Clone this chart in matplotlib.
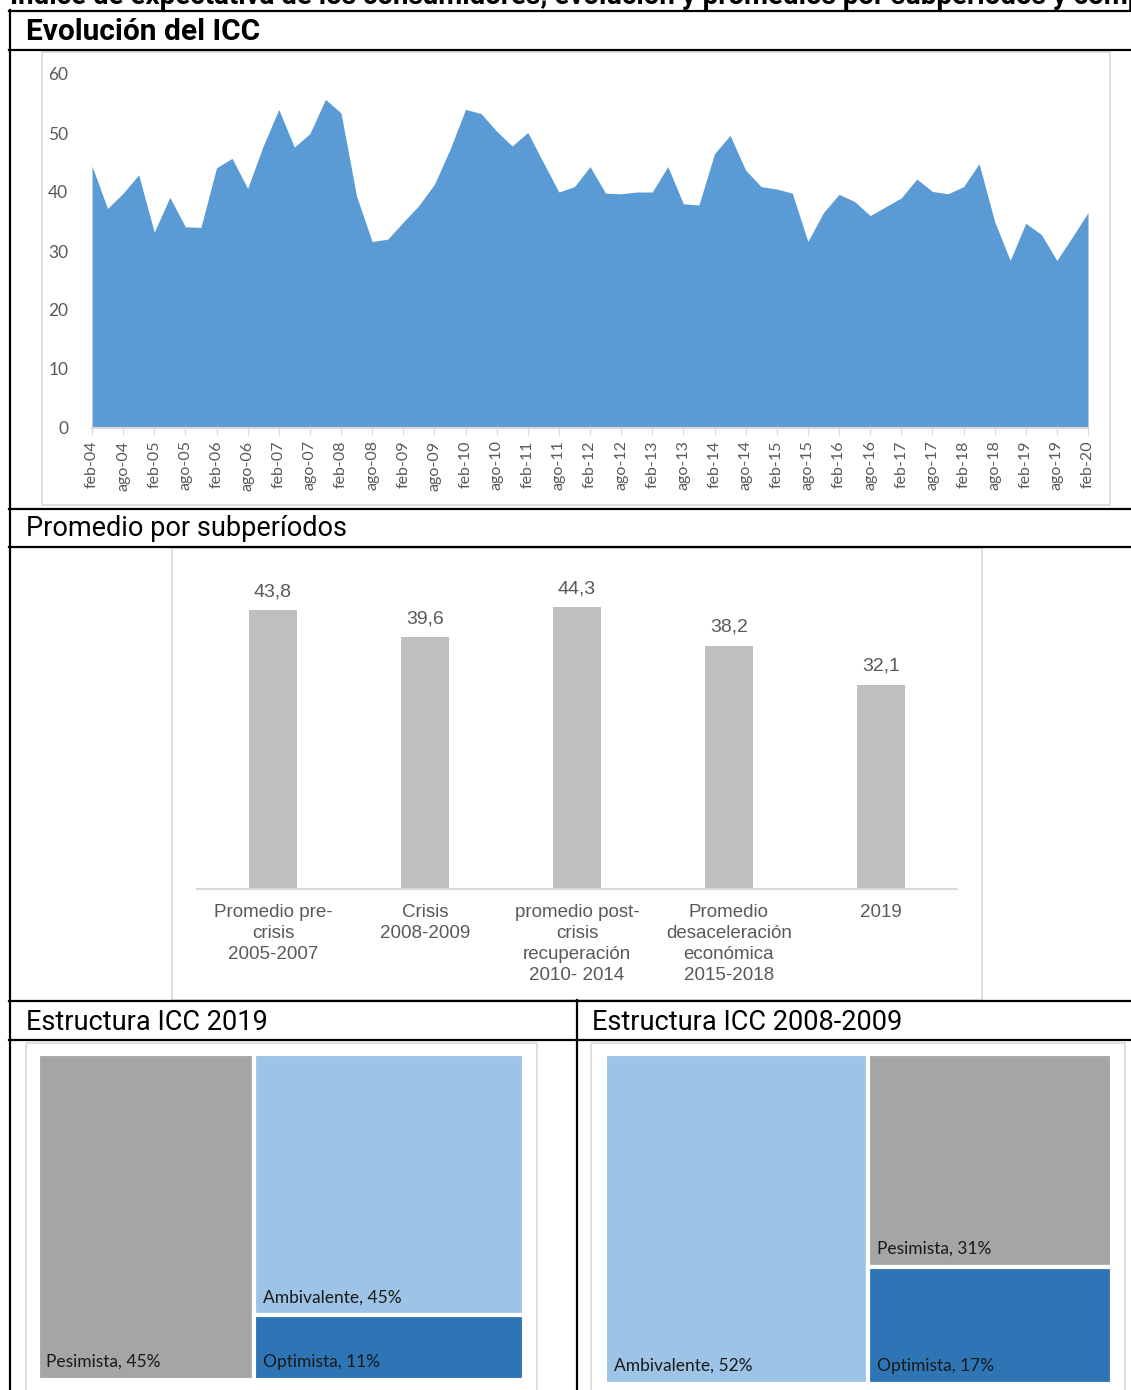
import numpy as np
import matplotlib
matplotlib.use('Agg')
import matplotlib.pyplot as plt
from matplotlib.patches import Rectangle

# ICC data, quarterly feb-04 .. feb-20
icc = [44.4, 37.2, 39.8, 42.9, 33.2, 39.1, 34.1, 34.0, 44.1, 45.7, 40.6, 47.8,
       54.0, 47.6, 49.9, 55.7, 53.4, 39.3, 31.6, 32.0, 34.9, 37.7, 41.3, 47.2,
       54.0, 53.3, 50.3, 47.8, 50.1, 45.0, 40.0, 40.9, 44.3, 39.8, 39.7, 40.0,
       40.0, 44.3, 38.0, 37.8, 46.5, 49.6, 43.7, 40.9, 40.5, 39.8, 31.6, 36.5,
       39.6, 38.4, 36.0, 37.5, 39.0, 42.2, 40.1, 39.7, 40.9, 44.8, 35.0, 28.4,
       34.7, 32.8, 28.4, 32.4, 36.5]
years = ['%02d' % y for y in range(4, 21)]
tick_labels = []
for y in years:
    tick_labels += ['feb-' + y, 'ago-' + y]
tick_labels = tick_labels[:-1]

periods = ['Promedio pre-\ncrisis\n2005-2007', 'Crisis\n2008-2009',
           'promedio post-\ncrisis\nrecuperación\n2010- 2014',
           'Promedio\ndesaceleración\neconómica\n2015-2018', '2019']
period_avg = [43.8, 39.6, 44.3, 38.2, 32.1]

tm19_labels = ['Pesimista', 'Ambivalente', 'Optimista']
tm19_values = [45, 45, 11]
tm0809_labels = ['Ambivalente', 'Pesimista', 'Optimista']
tm0809_values = [52, 31, 17]

colors = {'Pesimista': '#A5A5A5', 'Ambivalente': '#9DC3E6', 'Optimista': '#2E75B6'}

W, H = 1131, 1390
fig = plt.figure(figsize=(W / 100, H / 100), dpi=100)
head_font = ['Roboto', 'DejaVu Sans']
tick_font = ['Lato', 'DejaVu Sans']
bar_font = ['Liberation Sans', 'DejaVu Sans']
grey_txt = '#595959'


def px_axes(x0, y0, x1, y1):
    return fig.add_axes([x0 / W, 1 - y1 / H, (x1 - x0) / W, (y1 - y0) / H])


# overlay for table lines, frames and headers
ov = fig.add_axes([0, 0, 1, 1], zorder=0)
ov.set_xlim(0, W)
ov.set_ylim(H, 0)
ov.axis('off')

for (x0, y0, x1, y1) in [(42, 52, 1110, 505), (172, 548, 982, 1000),
                         (26, 1043, 537, 1395), (591, 1043, 1125, 1395)]:
    ov.add_patch(Rectangle((x0, y0), x1 - x0, y1 - y0, fill=False,
                           ec='#D9D9D9', lw=1.2))

for y in [11, 49.5, 508.5, 546.5, 1000.5, 1040]:
    ov.plot([9, W], [y, y], color='black', lw=1.6)
ov.plot([10, 10], [10, H], color='black', lw=1.6)
ov.plot([577, 577], [1000, H], color='black', lw=1.6)

ov.text(10, 4.5, 'Índice de expectativa de los consumidores; evolución y promedios por subperíodos y composición',
        family=head_font, fontsize=20, va='baseline', ha='left', weight='bold', clip_on=False)
ov.text(26, 32, 'Evolución del ICC', family=head_font, fontsize=21.5,
        weight='bold', va='center')
ov.text(26, 529, 'Promedio por subperíodos', family=head_font, fontsize=19.5, va='center')
ov.text(26, 1022, 'Estructura ICC 2019', family=head_font, fontsize=19.5, va='center')
ov.text(592, 1022, 'Estructura ICC 2008-2009', family=head_font, fontsize=19.5, va='center')

# area chart
ax = px_axes(92, 74, 1088, 428)
x = np.arange(len(icc))
ax.fill_between(x, icc, color='#5B9BD5', lw=0)
ax.set_xlim(0, len(icc) - 1)
ax.set_ylim(0, 60)
ax.set_yticks(range(0, 61, 10))
ax.set_xticks(np.arange(0, len(icc), 2))
ax.set_xticklabels(tick_labels, rotation=90, family=tick_font, fontsize=11.5, color=grey_txt)
for lab in ax.get_yticklabels():
    lab.set_family(tick_font)
ax.tick_params(axis='y', length=0, pad=17, labelsize=12.5, labelcolor=grey_txt)
ax.tick_params(axis='x', length=5, color='#D9D9D9', pad=4)
for s in ['top', 'right', 'left']:
    ax.spines[s].set_visible(False)
ax.spines['bottom'].set_color('#D9D9D9')
ax.spines['bottom'].set_linewidth(1.5)
ax.patch.set_alpha(0)

# bar chart
bx = px_axes(197, 570.5, 957, 889)
pos = np.arange(len(periods))
bx.bar(pos, period_avg, width=0.31, color='#BFBFBF')
bx.set_xlim(-0.5, len(periods) - 0.5)
bx.set_ylim(0, 50)
bx.set_yticks([])
bx.set_xticks(pos)
bx.set_xticklabels(periods, family=bar_font, fontsize=13.5,
                   color=grey_txt, linespacing=1.3, va='top')
bx.tick_params(axis='x', length=0, pad=11)
for s in ['top', 'right', 'left']:
    bx.spines[s].set_visible(False)
bx.spines['bottom'].set_color('#D9D9D9')
bx.spines['bottom'].set_linewidth(1.5)
for p, v in zip(pos, period_avg):
    bx.annotate(('%.1f' % v).replace('.', ','), (p, v), xytext=(0, 7),
                textcoords='offset points', ha='center', va='bottom',
                family=bar_font, fontsize=14, color=grey_txt)
bx.patch.set_alpha(0)


# treemaps: first item a full-height column, the rest stacked
def treemap(ax, labels, values):
    total = float(sum(values))
    w0 = values[0] / total
    rects = [(0, 0, w0, 1)]
    rest = sum(values[1:])
    top = 1.0
    for v in values[1:]:
        h = v / rest
        rects.append((w0, top - h, 1 - w0, h))
        top -= h
    for (rx, ry, rw, rh), lab, v in zip(rects, labels, values):
        ax.add_patch(Rectangle((rx, ry), rw, rh, fc=colors[lab], ec='white', lw=3))
        ax.text(rx + 0.018, ry + 0.03, '%s, %d%%' % (lab, v), family=tick_font,
                fontsize=12.5, color='#1a1a1a', ha='left', va='bottom')
    ax.set_xlim(0, 1)
    ax.set_ylim(0, 1)
    ax.axis('off')


t1 = px_axes(37.5, 1053.5, 523.5, 1379.5)
treemap(t1, tm19_labels, tm19_values)
t2 = px_axes(604.5, 1053.5, 1111.5, 1383.5)
treemap(t2, tm0809_labels, tm0809_values)

fig.savefig('out.png', dpi=100)
